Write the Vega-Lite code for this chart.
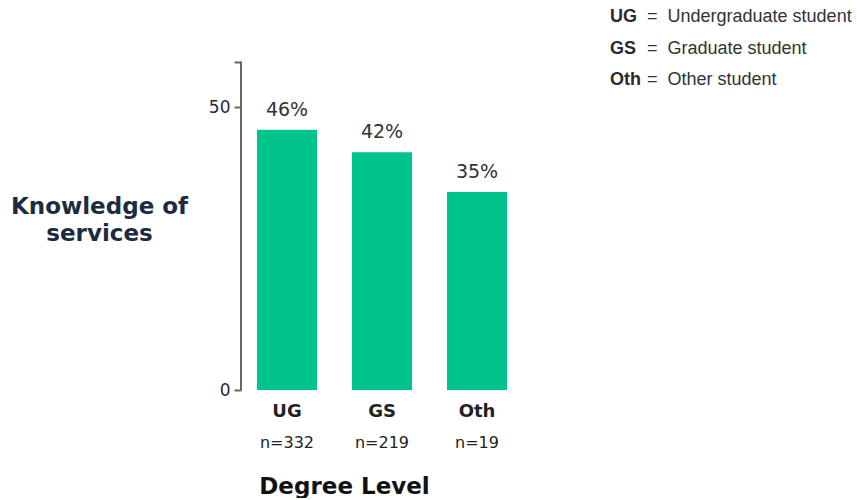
{
  "$schema": "https://vega.github.io/schema/vega-lite/v6.json",
  "padding": {"left": 10, "top": 8, "right": 0, "bottom": 0},
  "config": {"view": {"stroke": null}, "font": "DejaVu Sans"},
  "spacing": 87,
  "hconcat": [
    {
      "width": 282,
      "height": 382,
      "data": {"values": [
        {"level": "UG", "pct": 46, "label": "46%", "n": "n=332"},
        {"level": "GS", "pct": 42, "label": "42%", "n": "n=219"},
        {"level": "Oth", "pct": 35, "label": "35%", "n": "n=19"}
      ]},
      "encoding": {
        "x": {
          "field": "level", "type": "nominal", "sort": null,
          "scale": {"type": "band", "paddingInner": 0.368, "paddingOuter": 0.168},
          "axis": {
            "title": "Degree Level", "labelAngle": 0, "domain": false, "ticks": false,
            "labelFont": "DejaVu Sans", "labelFontWeight": "bold", "labelFontSize": 18,
            "labelColor": "#222222", "labelPadding": 12,
            "titleFont": "DejaVu Sans", "titleFontSize": 23, "titleFontWeight": "bold",
            "titleColor": "#111111", "titleX": 103, "titleY": 103,
            "titleAlign": "center", "titleBaseline": "alphabetic"
          }
        }
      },
      "layer": [
        {
          "mark": {"type": "bar", "color": "#00c48c"},
          "encoding": {
            "y": {
              "field": "pct", "type": "quantitative",
              "scale": {"domain": [0, 67.5], "nice": false, "zero": true},
              "axis": {
                "values": [0, 50, 58],
                "labelExpr": "datum.value == 58 ? '' : datum.label",
                "domain": false, "grid": false,
                "tickSize": 7, "tickColor": "#666666", "tickWidth": 2,
                "labelFont": "DejaVu Sans", "labelFontSize": 17, "labelColor": "#1c2b3f", "labelPadding": 4,
                "title": ["Knowledge of", "services"],
                "titleAngle": 0, "titleX": -142, "titleY": 198,
                "titleAlign": "center", "titleBaseline": "middle",
                "titleFont": "DejaVu Sans", "titleFontSize": 23, "titleFontWeight": "bold",
                "titleColor": "#1c2b3f", "titleLineHeight": 27
              }
            }
          }
        },
        {
          "mark": {"type": "rule", "color": "#666666", "strokeWidth": 2},
          "encoding": {"x": {"value": 0}, "y": {"datum": 0}, "y2": {"datum": 58}}
        },
        {
          "mark": {"type": "text", "baseline": "alphabetic", "dy": -14, "fontSize": 19, "color": "#333333", "font": "DejaVu Sans"},
          "encoding": {"y": {"field": "pct", "type": "quantitative"}, "text": {"field": "label"}}
        },
        {
          "mark": {"type": "text", "baseline": "alphabetic", "dy": 58, "fontSize": 16, "color": "#222222", "font": "DejaVu Sans"},
          "encoding": {"y": {"datum": 0}, "text": {"field": "n"}}
        }
      ]
    },
    {
      "width": 37,
      "height": 81,
      "data": {"values": [
        {"code": "UG", "desc": "=\u00a0\u00a0Undergraduate student"},
        {"code": "GS", "desc": "=\u00a0\u00a0Graduate student"},
        {"code": "Oth", "desc": "=\u00a0\u00a0Other student"}
      ]},
      "encoding": {
        "y": {"field": "code", "type": "nominal", "sort": null, "scale": {"type": "point", "padding": 0.3}, "axis": null}
      },
      "layer": [
        {
          "mark": {"type": "text", "align": "left", "baseline": "middle", "font": "Liberation Sans", "fontWeight": "bold", "fontSize": 18, "color": "#2b2b2b"},
          "encoding": {
            "x": {"datum": "code", "type": "nominal", "scale": {"type": "point", "domain": ["code", "desc"], "padding": 0}, "axis": null},
            "text": {"field": "code"}
          }
        },
        {
          "mark": {"type": "text", "align": "left", "baseline": "middle", "font": "Liberation Sans", "fontSize": 18, "color": "#333333"},
          "encoding": {
            "x": {"datum": "desc", "type": "nominal", "axis": null},
            "text": {"field": "desc"}
          }
        }
      ]
    }
  ]
}
